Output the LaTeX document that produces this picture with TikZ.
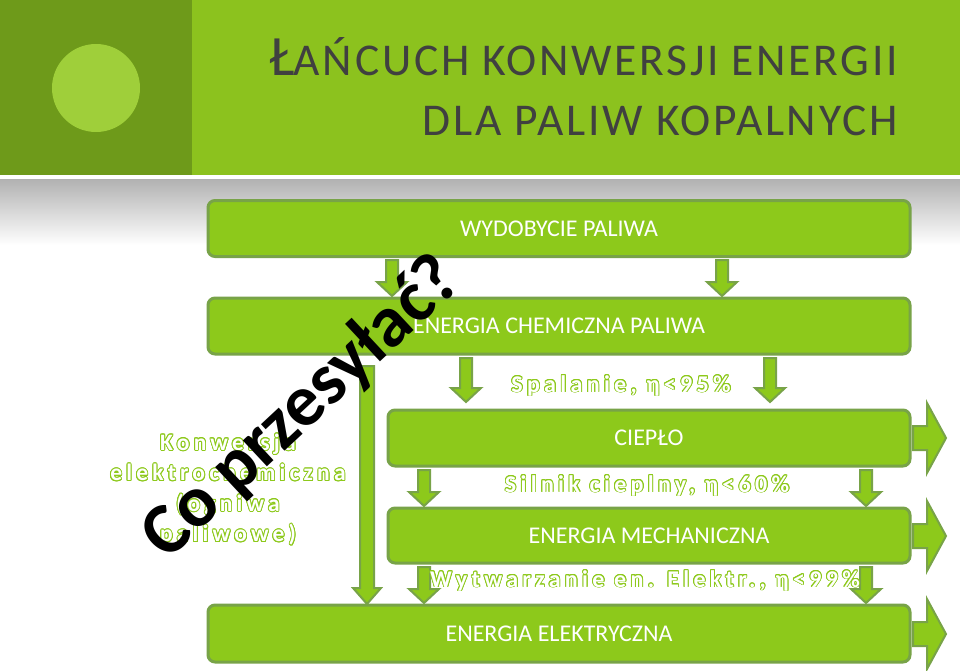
\documentclass[tikz,border=0pt]{standalone}
\usepackage{fontspec}
\setmainfont{Carlito}
\newfontfamily\lblfont[LetterSpace=18]{Carlito Bold}
\newfontfamily\ttlfont[LetterSpace=6]{Carlito}
\usepackage{contour}
\contourlength{0.9pt}
\definecolor{band}{HTML}{8CC21E}
\definecolor{dband}{HTML}{6E9A1A}
\definecolor{circ}{HTML}{9FCF3A}
\definecolor{boxf}{HTML}{8DC91B}
\definecolor{boxd}{HTML}{78A348}
\definecolor{lbl}{HTML}{8DC91B}
\definecolor{ttl}{HTML}{404040}
\tikzset{
 bx/.style={draw=boxd,line width=3pt,fill=boxf,rounded corners=7pt,text=white,font=\fontsize{24}{24}\selectfont},
 arr/.style={draw=boxd,fill=boxf,line width=2pt,line join=miter},
 lab/.style={font=\lblfont\fontsize{24}{27}\selectfont,align=center},
}
\newcommand{\dnarr}[3]{\draw[arr] (#1-6,#2)--(#1+6,#2)--(#1+6,#3-14)--(#1+15,#3-14)--(#1,#3)--(#1-15,#3-14)--(#1-6,#3-14)--cycle;}
\newcommand{\rtarr}[1]{\draw[arr] (913,#1-12)--(927,#1-12)--(927,#1-35)--(946,#1)--(927,#1+35)--(927,#1+12)--(913,#1+12)--cycle;}
\newcommand{\olt}[1]{\contour{lbl}{\textcolor{white}{#1}}}
\begin{document}
\begin{tikzpicture}[x=1pt,y=-1pt]
\useasboundingbox (0,0) rectangle (960,671);
\fill[white] (0,0) rectangle (960,671);
\fill[band] (0,0) rectangle (960,175);
\fill[dband] (0,0) rectangle (192,175);
\fill[circ] (96,88) circle (44);
\shade[top color=black!30,bottom color=white] (0,180) rectangle (960,245);
\node[anchor=base east,text=ttl,font=\ttlfont\fontsize{57}{57}\selectfont,inner sep=0pt] (t1) at (898,76) {Ł\fontsize{45.5}{45.5}\selectfont AŃCUCH KONWERSJI ENERGII};
\node[anchor=base east,text=ttl,font=\ttlfont\fontsize{45.5}{45.5}\selectfont,inner sep=0pt] (t2) at (898,136) {DLA PALIW KOPALNYCH};
\node[bx,minimum width=702,minimum height=56] (b1) at (559,228.5) {WYDOBYCIE PALIWA};
\node[bx,minimum width=702,minimum height=56] (b2) at (559,326) {ENERGIA CHEMICZNA PALIWA};
\node[bx,minimum width=522,minimum height=56] (b3) at (649,438) {CIEPŁO};
\node[bx,minimum width=522,minimum height=55] (b4) at (649,535.5) {ENERGIA MECHANICZNA};
\node[bx,minimum width=702,minimum height=57] (b5) at (559,633.5) {ENERGIA ELEKTRYCZNA};
\dnarr{392}{260}{296}\dnarr{722}{260}{296}
\dnarr{466}{358}{402}\dnarr{770}{358}{402}
\dnarr{424}{470}{506}\dnarr{866}{470}{506}
\dnarr{424}{567}{603}\dnarr{866}{567}{603}
\draw[arr] (360,366)--(374,366)--(374,588)--(381,588)--(367,604)--(353,588)--(360,588)--cycle;
\rtarr{438}\rtarr{536}\rtarr{634}
\node[lab] (l1) at (621,386) {\olt{Spalanie, η<95\%}};
\node[lab] (l2) at (647,486) {\olt{Silnik cieplny, η<60\%}};
\node[lab] (l3) at (645,581) {\olt{Wytwarzanie en. Elektr., η<99\%}};
\node[lab,font=\lblfont\fontsize{23.5}{30.5}\selectfont] (l4) at (228,490) {\olt{Konwersja}\\\olt{elektrochemiczna}\\\olt{(ogniwa}\\\olt{paliwowe)}};
\node[rotate=43,font=\bfseries\fontsize{73}{73}\selectfont,text=black] (wm) at (302,408) {Co przesyłać?};
\end{tikzpicture}
\end{document}
